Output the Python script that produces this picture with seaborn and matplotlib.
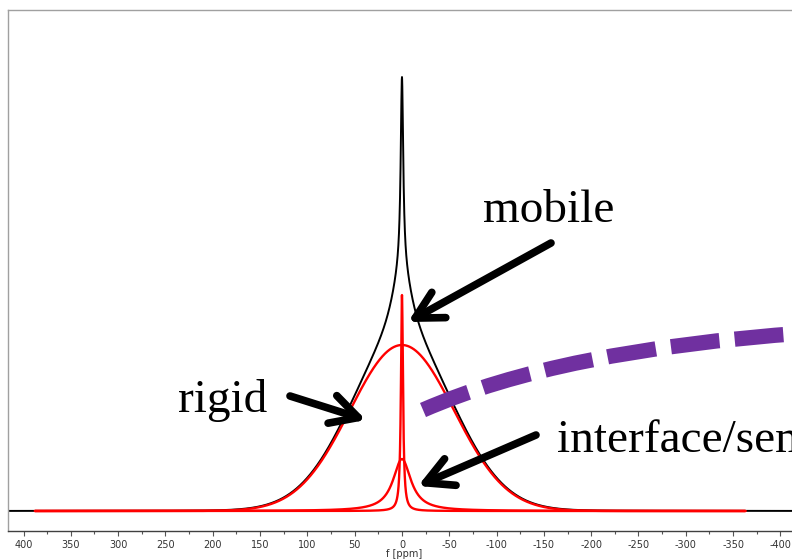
import numpy as np
import pandas as pd
import matplotlib
matplotlib.use("Agg")
import matplotlib.pyplot as plt
import seaborn as sns
from matplotlib.path import Path
from matplotlib.patches import PathPatch
from matplotlib.ticker import MultipleLocator

# Deconvolution components (red): centre [ppm], half-width [ppm], amplitude
comp_names = ["rigid", "mobile", "interface"]
comp_shape = ["gauss", "lorentz", "lorentz"]
comp_center = [0.0, 0.0, 0.0]
comp_width = [55.0, 1.3, 11.5]
comp_amp = [166.0, 216.0, 52.0]

# Measured spectrum (black), described by its own line-shape terms
meas_shape = ["gauss", "lorentz", "lorentz", "lorentz"]
meas_center = [0.0, 0.0, 0.0, 0.0]
meas_width = [55.0, 11.5, 1.6, 18.0]
meas_amp = [166.0, 52.0, 190.0, 26.0]

fit_range = [388.0, -363.0]
x_limits = [416.4, -420.7]
tick_values = list(range(400, -401, -50))


def line_shape(x, shape, c, w, a):
    if shape == "gauss":
        return a * np.exp(-((x - c) ** 2) / (2 * w ** 2))
    return a / (1 + ((x - c) / w) ** 2)


ppm = np.linspace(x_limits[0], x_limits[1], 12000)

measured = sum(line_shape(ppm, s, c, w, a)
               for s, c, w, a in zip(meas_shape, meas_center, meas_width, meas_amp))
df_meas = pd.DataFrame({"ppm": ppm, "intensity": measured})

mask = (ppm <= fit_range[0]) & (ppm >= fit_range[1])
frames = []
for n, s, c, w, a in zip(comp_names, comp_shape, comp_center, comp_width, comp_amp):
    frames.append(pd.DataFrame({"ppm": ppm[mask],
                                "intensity": line_shape(ppm[mask], s, c, w, a),
                                "component": n}))
df_comp = pd.concat(frames, ignore_index=True)

sns.set_style("white")
plt.rcParams["font.family"] = ["DejaVu Sans"]
plt.rcParams["text.color"] = "black"

W, H = 792, 560
fig = plt.figure(figsize=(W / 100, H / 100), dpi=100)


def fx(px):
    return px / W


def fy(py):
    return 1 - py / H


ax = fig.add_axes([fx(8), fy(531), fx(800 - 8), fy(10) - fy(531)])

sns.lineplot(data=df_meas, x="ppm", y="intensity", color="black", lw=1.4, ax=ax,
             estimator=None, sort=False)
for n in comp_names:
    sns.lineplot(data=df_comp[df_comp.component == n], x="ppm", y="intensity",
                 color="#ff0000", lw=1.7, ax=ax, estimator=None, sort=False)

ax.set_xlim(x_limits)
ax.set_ylim(-20, 501)
ax.set_yticks([])
ax.set_ylabel("")
ax.set_xlabel("")
ax.set_xticks(tick_values)
ax.set_xticklabels([str(t) for t in tick_values])
ax.xaxis.set_minor_locator(MultipleLocator(25))
ax.tick_params(axis="x", which="major", direction="out", length=3.5, width=0.8,
               color="#555555", labelsize=7, labelcolor="#333333", pad=3, bottom=True)
ax.tick_params(axis="x", which="minor", direction="out", length=2.2, width=0.8,
               color="#555555", bottom=True)
for side in ["top", "left"]:
    ax.spines[side].set_color("#a0a0a0")
    ax.spines[side].set_linewidth(1.0)
ax.spines["bottom"].set_color("#404040")
ax.spines["bottom"].set_linewidth(1.0)
ax.spines["right"].set_visible(False)

fig.text(fx(404), fy(554), "f [ppm]", fontsize=7, color="#333333",
         ha="center", va="center")

# Labels and arrows
serif = ["Liberation Serif", "DejaVu Serif"]
fig.text(fx(483), fy(222), "mobile", fontsize=34, family=serif, color="black",
         ha="left", va="baseline")
fig.text(fx(178), fy(412), "rigid", fontsize=34, family=serif, color="black",
         ha="left", va="baseline")
fig.text(fx(557), fy(452), "interface/semi-rigid", fontsize=34, family=serif,
         color="black", ha="left", va="baseline")

arrows = [((551, 243), (408, 322)),
          ((290, 396), (366, 420)),
          ((536, 435), (418, 486))]
for (tx, ty), (hx, hy) in arrows:
    ax.annotate("", xy=(fx(hx), fy(hy)), xycoords="figure fraction",
                xytext=(fx(tx), fy(ty)), textcoords="figure fraction",
                arrowprops=dict(arrowstyle="->,head_length=0.75,head_width=0.4",
                                mutation_scale=26, lw=5.5, color="black",
                                shrinkA=0, shrinkB=0))

# Purple dashed sweep
verts = [(fx(423), fy(410)), (fx(560), fy(350)), (fx(805), fy(333))]
sweep = PathPatch(Path(verts, [Path.MOVETO, Path.CURVE3, Path.CURVE3]),
                  transform=fig.transFigure, fill=False, edgecolor="#7030a0",
                  lw=11, linestyle=(0, (3.2, 1.0)), capstyle="butt")
fig.patches.append(sweep)

fig.savefig("out.png", dpi=100)
